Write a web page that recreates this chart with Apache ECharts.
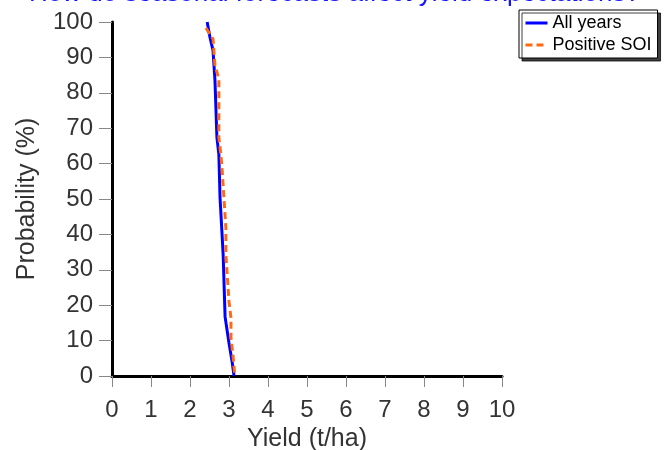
<!DOCTYPE html>
<html>
<head>
<meta charset="utf-8">
<script src="https://cdn.jsdelivr.net/npm/echarts@6/dist/echarts.min.js"></script>
<style>html,body{margin:0;padding:0;background:#fff}#c{width:669px;height:450px}</style>
</head>
<body>
<div id="c"></div>
<script>
var titleText = "How do seasonal forecasts affect yield expectations?";
var seriesNames = ["All years", "Positive SOI"];
var allYearsYield = [2.44, 2.51, 2.59, 2.64, 2.69, 2.74, 2.77, 2.82, 2.85, 2.90, 3.00, 3.08, 3.13];
var allYearsProb  = [100, 95.8, 92, 83.6, 67.4, 62.6, 50.4, 40.5, 34.3, 16.7, 9.3, 4, 0];
var posSoiYield = [2.41, 2.59, 2.64, 2.74, 2.74, 2.79, 2.82, 2.87, 2.92, 2.92, 3.00, 3.05, 3.05, 3.10, 3.15];
var posSoiProb  = [98.3, 95.2, 87.8, 83.9, 67.4, 62.6, 58.9, 50.4, 41.9, 34.3, 21, 16.4, 10.8, 6, 0];
var xTicks = [0,1,2,3,4,5,6,7,8,9,10];
var yTicks = [0,10,20,30,40,50,60,70,80,90,100];

function pairs(xs, ys){ return xs.map(function(x,i){ return [x, ys[i]]; }); }

var font = "Liberation Sans, Arial, sans-serif";
var chart = echarts.init(document.getElementById('c'));
chart.setOption({
  animation: false,
  textStyle: {fontFamily: font},
  title: {
    text: titleText, left: 'center', top: -24,
    textStyle: {color: '#1414ff', fontSize: 26, fontWeight: 'normal', fontFamily: font}
  },
  legend: {
    orient: 'vertical', left: 519, top: 10,
    data: seriesNames,
    itemWidth: 22, itemHeight: 16, itemGap: 4,
    padding: [4, 6, 4, 5],
    borderColor: '#000', borderWidth: 1,
    backgroundColor: '#fff',
    shadowColor: 'rgba(0,0,0,0.75)', shadowOffsetX: 3, shadowOffsetY: 3, shadowBlur: 0,
    itemStyle: {opacity: 0},
    lineStyle: {width: 3},
    textStyle: {color: '#000', fontSize: 18, fontFamily: font}
  },
  grid: {left: 112, right: 167, top: 22, bottom: 74, outerBoundsMode: 'none', containLabel: false},
  xAxis: {
    type: 'value', min: 0, max: 10, interval: 1,
    name: 'Yield (t/ha)', nameLocation: 'middle', nameGap: 50,
    nameTextStyle: {color: '#333', fontSize: 25, fontFamily: font},
    axisLine: {show: true, onZero: false, lineStyle: {color: '#000', width: 3}},
    axisTick: {show: true, length: 11, lineStyle: {color: '#888', width: 1}},
    axisLabel: {color: '#333', fontSize: 24, margin: 22, fontFamily: font,
      formatter: function(v){ return xTicks.indexOf(v) >= 0 ? String(v) : ''; }},
    splitLine: {show: false}
  },
  yAxis: {
    type: 'value', min: 0, max: 100, interval: 10,
    name: 'Probability (%)', nameLocation: 'middle', nameGap: 72, nameRotate: 90,
    nameTextStyle: {color: '#333', fontSize: 25, fontFamily: font},
    axisLine: {show: true, onZero: false, lineStyle: {color: '#000', width: 3}},
    axisTick: {show: true, length: 13, lineStyle: {color: '#888', width: 1}},
    axisLabel: {color: '#333', fontSize: 24, margin: 19, fontFamily: font,
      formatter: function(v){ return yTicks.indexOf(v) >= 0 ? String(v) : ''; }},
    splitLine: {show: false}
  },
  series: [
    {
      name: seriesNames[0], type: 'line', data: pairs(allYearsYield, allYearsProb),
      symbol: 'none', z: 2,
      lineStyle: {color: '#0000ff', width: 3},
      itemStyle: {color: '#0000ff'}
    },
    {
      name: seriesNames[1], type: 'line', data: pairs(posSoiYield, posSoiProb),
      symbol: 'none', z: 3,
      lineStyle: {color: '#ff6a10', width: 3, type: [7, 4]},
      itemStyle: {color: '#ff6a10'}
    }
  ]
});
</script>
</body>
</html>
